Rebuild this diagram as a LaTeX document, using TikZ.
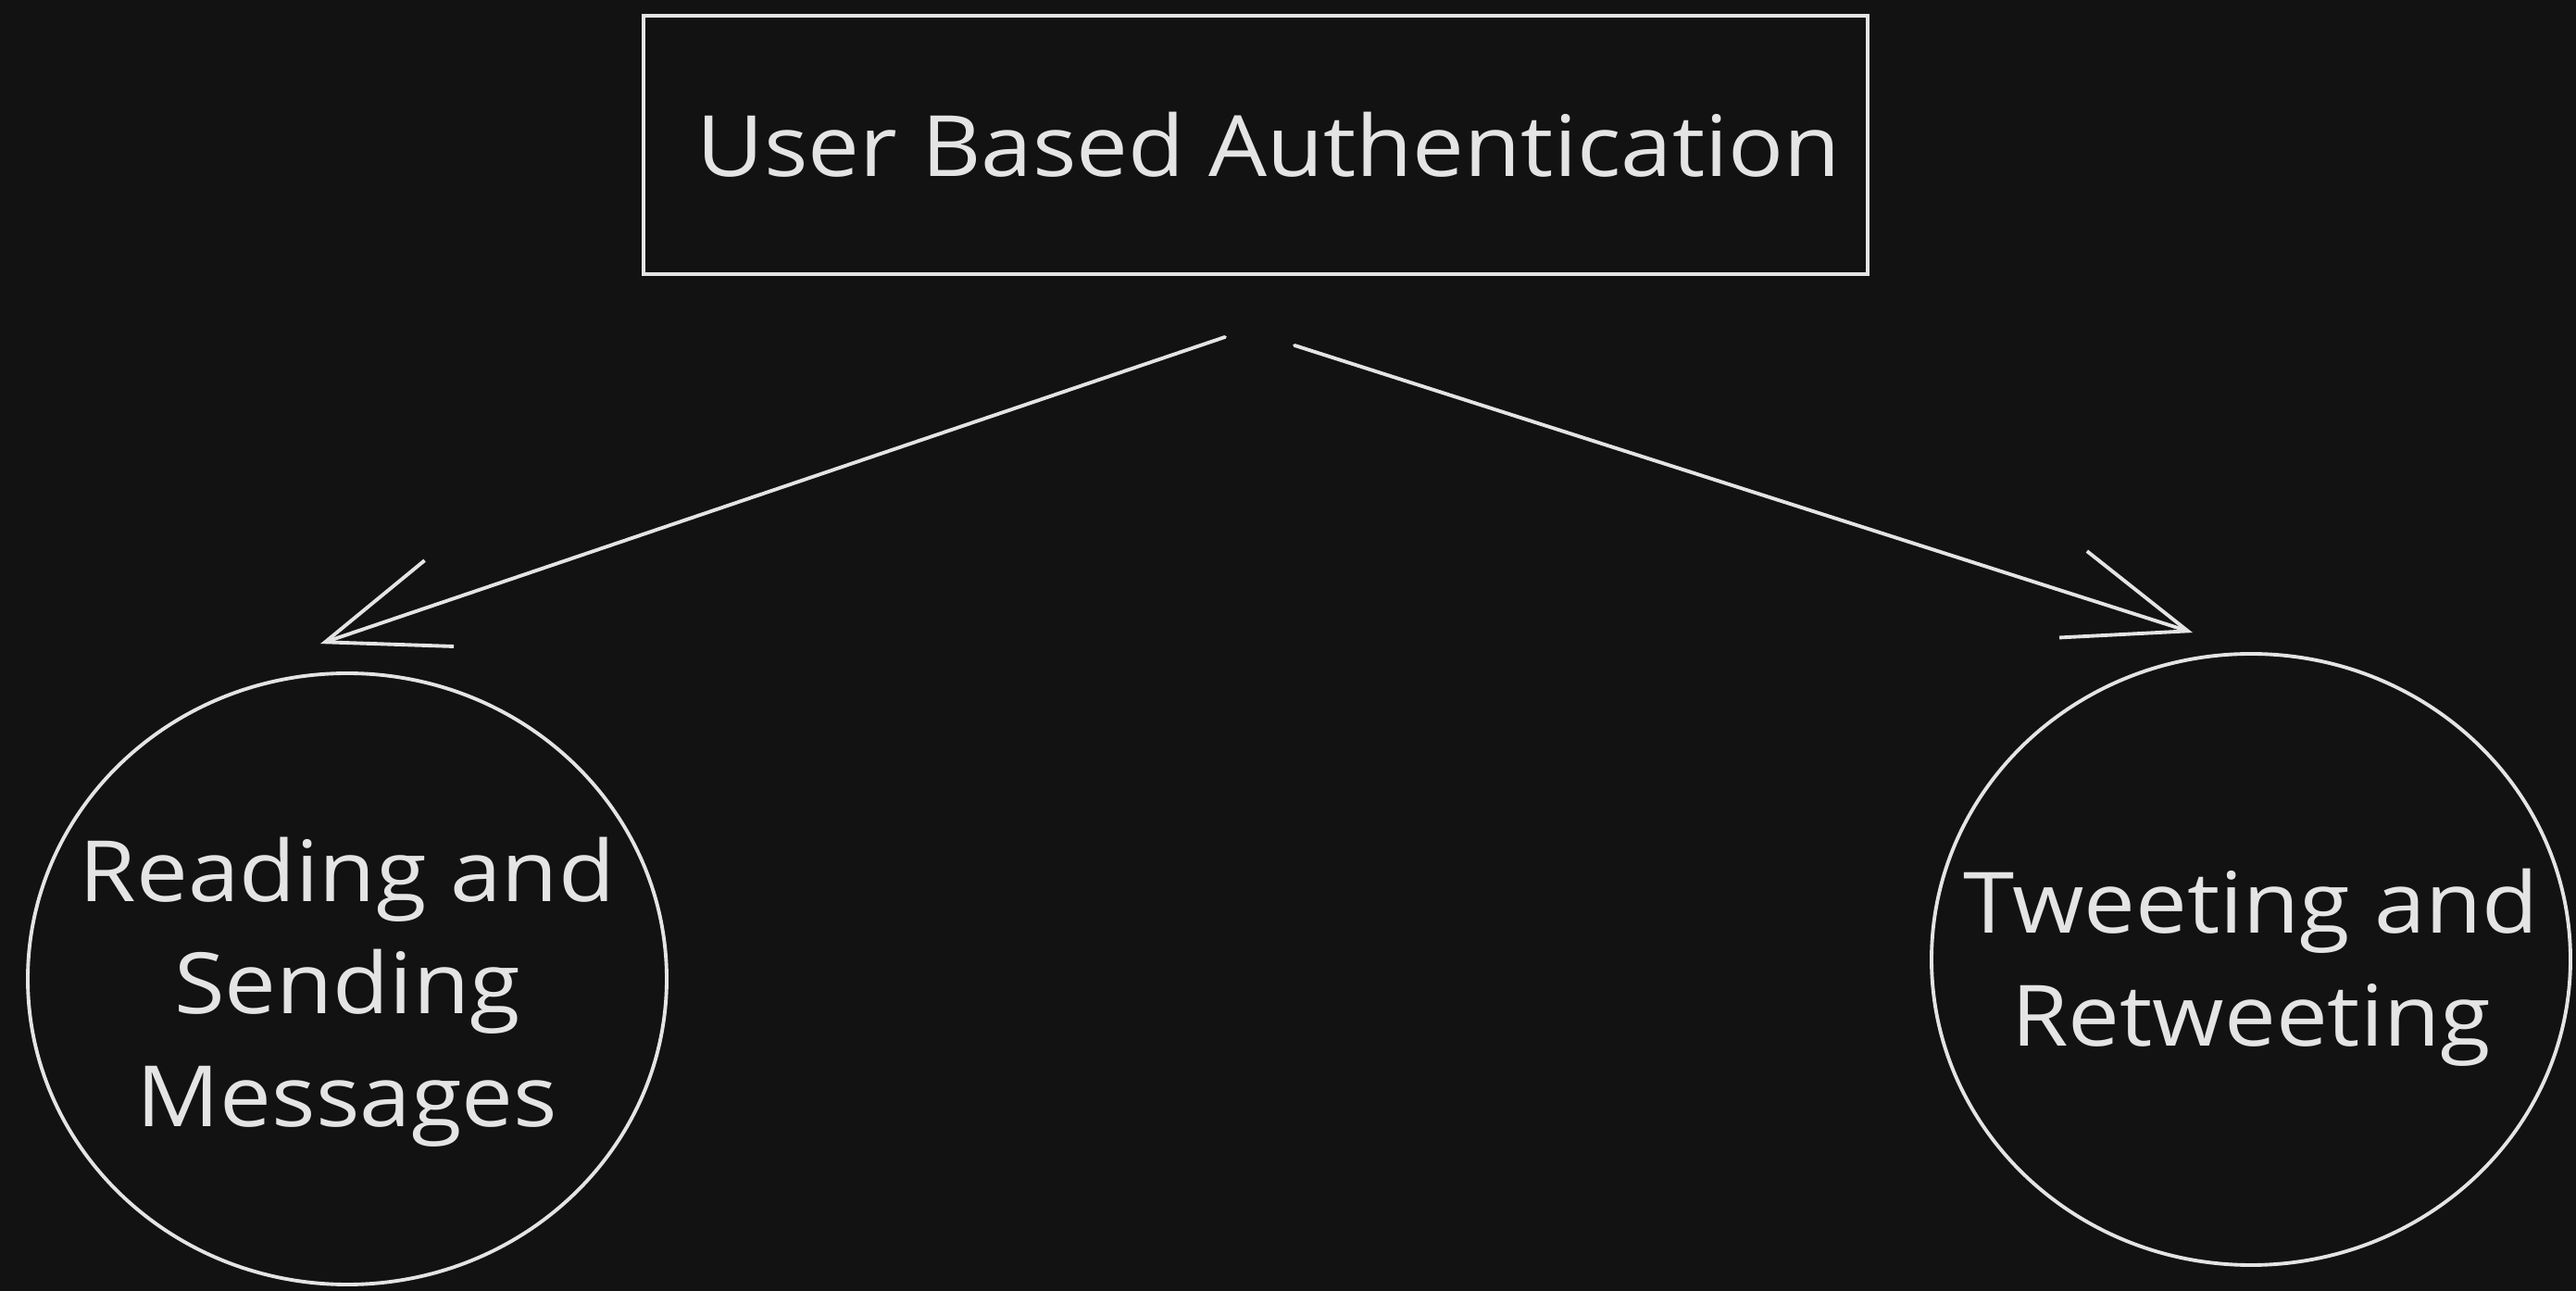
\documentclass[tikz,border=0pt]{standalone}
\usepackage{fontspec}
\setmainfont{Open Sans}[FakeStretch=1.09]
\usetikzlibrary{positioning,arrows.meta,shapes.geometric}
\definecolor{bgc}{HTML}{121212}
\definecolor{ink}{HTML}{E4E4E4}
\tikzset{
  box/.style={draw=ink, line width=1.1pt, minimum width=132.2mm, minimum height=27.9mm, inner sep=0pt},
  bubble/.style={ellipse, draw=ink, line width=1.1pt, minimum width=69mm, minimum height=66mm, inner xsep=-6mm, inner ysep=0pt},
  lbl/.style={text=ink, font=\fontsize{26}{34.6}\selectfont, inner sep=0pt, align=center},
  fl/.style={-{Straight Barb[length=13mm, width=9.8mm]}, draw=ink, line width=1.1pt, line cap=round, line join=round},
}
\begin{document}
\begin{tikzpicture}
\fill[bgc] (0,0) rectangle (27.82,13.94);
\useasboundingbox (0,0) rectangle (27.82,13.94);
\node[box] (auth) at (13.56,12.375) {};
\node[lbl, anchor=west] (authtxt) at ([xshift=5.9mm]auth.west) {User Based Authentication};
\node[bubble] (read) at (3.75,3.37) {};
\node[bubble] (tweet) at (24.31,3.58) {};
\node[lbl] (readtxt) at ([yshift=-1.4mm]read.center) {Reading and\\Sending\\Messages};
\node[lbl] (tweettxt) at ([yshift=-0.9mm]tweet.center) {Tweeting and\\Retweeting};
\coordinate (l0) at ([shift={(-0.33,-0.66)}]auth.south);
\coordinate (l1) at ([shift={(-0.29,0.30)}]read.north);
\coordinate (r0) at ([shift={(0.42,-0.75)}]auth.south);
\coordinate (r1) at ([shift={(-0.63,0.21)}]tweet.north);
\draw[fl] (l0) -- (l1);
\draw[fl] (r0) -- (r1);
\end{tikzpicture}
\end{document}
